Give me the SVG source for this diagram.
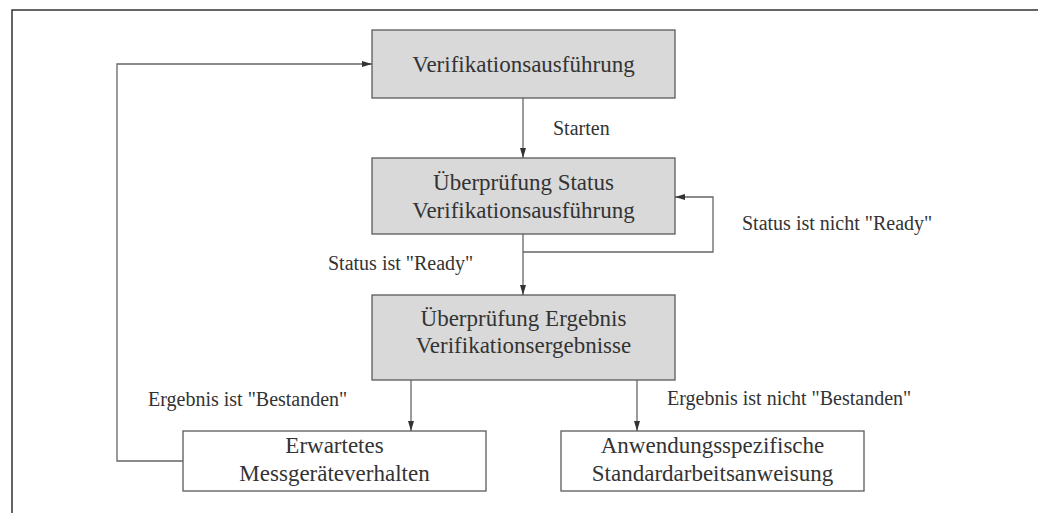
<svg xmlns="http://www.w3.org/2000/svg" width="1038" height="513" viewBox="0 0 1038 513">
<style>
.box{stroke:#5a5a5a;stroke-width:1.3}
.g{fill:#d9d9d9}
.w{fill:#ffffff}
.t{font-family:"Liberation Serif",serif;font-size:23px;fill:#333;text-anchor:middle}
.l{font-family:"Liberation Serif",serif;font-size:20px;fill:#333}
.c{fill:none;stroke:#666;stroke-width:1.3}
</style>
<defs>
<marker id="ah" viewBox="0 0 10 6" refX="10" refY="3" markerWidth="10" markerHeight="6" markerUnits="userSpaceOnUse" orient="auto">
<path d="M0,0 L10,3 L0,6 Z" fill="#333"/>
</marker>
</defs>
<rect width="1038" height="513" fill="#fff"/>
<path d="M12,513 V10 H1038" fill="none" stroke="#333" stroke-width="1.5"/>
<g id="connectors">
<path class="c" d="M523,98 V158" marker-end="url(#ah)"/>
<path class="c" d="M523,234 V295" marker-end="url(#ah)"/>
<path class="c" d="M523,252 H713 V197 H675" marker-end="url(#ah)"/>
<path class="c" d="M411,380 V431" marker-end="url(#ah)"/>
<path class="c" d="M637,380 V431" marker-end="url(#ah)"/>
<path class="c" d="M183,461 H117 V64 H372" marker-end="url(#ah)"/>
<text class="l" x="553" y="135">Starten</text>
<text class="l" x="742" y="230">Status ist nicht "Ready"</text>
<text class="l" x="328" y="270">Status ist "Ready"</text>
<text class="l" x="148" y="406">Ergebnis ist "Bestanden"</text>
<text class="l" x="667" y="405">Ergebnis ist nicht "Bestanden"</text>
</g>
<g id="n1">
<rect class="box g" x="372" y="30" width="303" height="68"/>
<text class="t" x="523.5" y="72">Verifikationsausführung</text>
</g>
<g id="n2">
<rect class="box g" x="372" y="158" width="303" height="76"/>
<text class="t" x="523.5" y="190">Überprüfung Status</text>
<text class="t" x="523.5" y="218">Verifikationsausführung</text>
</g>
<g id="n3">
<rect class="box g" x="372" y="295" width="303" height="85"/>
<text class="t" x="523.5" y="326">Überprüfung Ergebnis</text>
<text class="t" x="523.5" y="353">Verifikationsergebnisse</text>
</g>
<g id="n4">
<rect class="box w" x="183" y="431" width="303" height="60"/>
<text class="t" x="334.5" y="453">Erwartetes</text>
<text class="t" x="334.5" y="481">Messgeräteverhalten</text>
</g>
<g id="n5">
<rect class="box w" x="561" y="431" width="303" height="60"/>
<text class="t" x="712.5" y="453">Anwendungsspezifische</text>
<text class="t" x="712.5" y="481">Standardarbeitsanweisung</text>
</g>
</svg>
